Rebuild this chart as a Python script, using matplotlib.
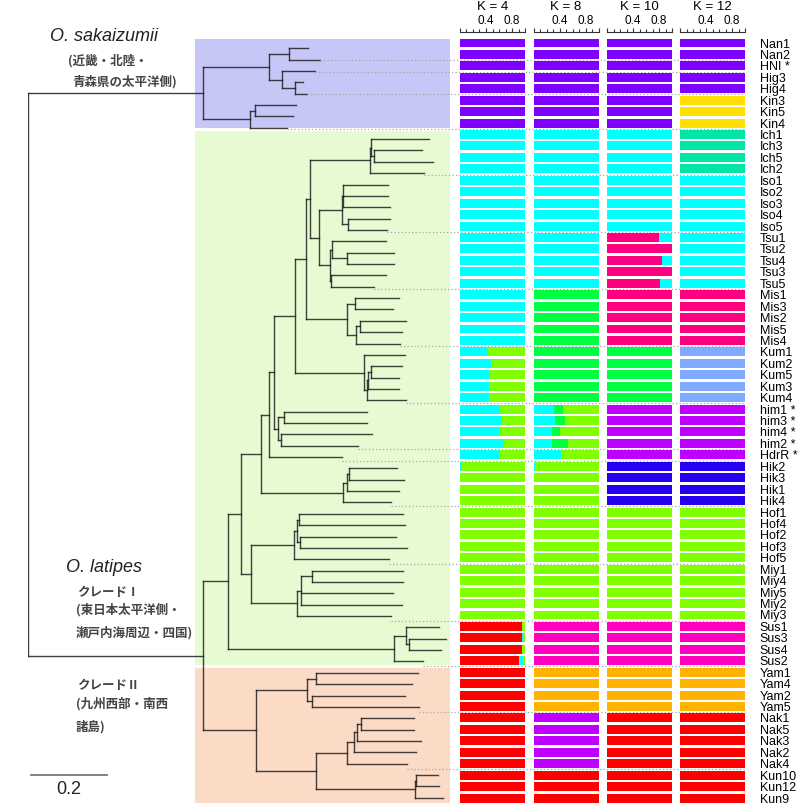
import matplotlib
matplotlib.use('Agg')

import matplotlib.pyplot as plt
import matplotlib.patches as patches
import matplotlib.transforms as mtransforms
from matplotlib.collections import LineCollection
import numpy as np

plt.rcParams['font.family'] = ['Liberation Sans', 'DejaVu Sans']
CJK = ['Noto Sans CJK JP', 'DejaVu Sans']

# ---------------- data ----------------
# neighbour-joining tree, branch lengths (scale bar 0.2)
sak = ("(((Nan1:0.050,Nan2:0.081):0.053,(HNI:0.088,(Hig3:0.021,Hig4:0.031):0.035):0.033):0.174,"
       "((Kin3:0.108,Kin5:0.101):0.013,Kin4:0.097):0.123):0.461")
ich = "((Ich1:0.153,(Ich3:0.126,Ich5:0.154):0.009):0.002,Ich2:0.142):0.157"
iso = "((Iso1:0.118,Iso2:0.118,Iso3:0.123):0.003,(Iso4:0.110,Iso5:0.103):0.015):0.062"
tsu = "((Tsu1:0.142,(Tsu2:0.122,Tsu4:0.122):0.039):0.007,(Tsu3:0.143,Tsu5:0.112):0.004):0.029"
mis = "((Mis1:0.115,Mis3:0.099):0.021,((Mis2:0.123,Mis5:0.111):0.009,Mis4:0.116):0.024):0.108"
kum = "(Kum1:0.108,(((Kum2:0.081,Kum5:0.074):0.006,Kum3:0.079):0.004,Kum4:0.103):0.007):0.183"
him = "((him1:0.217,him3:0.219):0.016,(him4:0.239,him2:0.202):0.009):0.011"
hik = "(((Hik2:0.125,Hik3:0.145):0.005,Hik1:0.136):0.011,Hik4:0.127):0.215"
hof = "(((Hof1:0.272,Hof4:0.278):0.005,(Hof2:0.253,Hof3:0.281):0.007):0.009,Hof5:0.251):0.114"
miy = "(((Miy1:0.239,Miy4:0.239):0.030,Miy5:0.243,Miy2:0.266):0.011,Miy3:0.247):0.121"
sus = "((Sus1:0.086,(Sus3:0.098,Sus4:0.085):0.007):0.033,Sus2:0.077):0.438"
yam = "((Yam1:0.269,Yam4:0.253):0.023,(Yam2:0.246,Yam5:0.281):0.012):0.136"
nak = "((((Nak1:0.141,Nak5:0.141):0.009,Nak3:0.167):0.009,Nak2:0.162):0.019,Nak4:0.158):0.081"
kun = "((Kun10:0.057,Kun12:0.059):0.003,Kun9:0.073):0.261"

clade1 = ("((((((((" + ich + ",(" + iso + "," + tsu + "):0.022):0.011," + mis + "):0.030,"
          + kum + "):0.055," + him + "):0.013,HdrR:0.192):0.020," + hik + "):0.054,("
          + hof + "," + miy + "):0.026):0.035," + sus + "):0.064")
clade2 = "(" + yam + ",(" + nak + "," + kun + "):0.159):0.138"
newick = "(" + sak + ",(" + clade1 + "," + clade2 + "):0.461);"

pop_names = ['Nan', 'HNI', 'Hig', 'Kin', 'Ich', 'Iso', 'Tsu', 'Mis', 'Kum',
             'him', 'HdrR', 'Hik', 'Hof', 'Miy', 'Sus', 'Yam', 'Nak', 'Kun']
pop_sizes = [2, 1, 2, 3, 4, 5, 5, 5, 5, 4, 1, 4, 5, 5, 4, 4, 5, 3]
starred = ['HNI', 'him1', 'him3', 'him4', 'him2', 'HdrR']

# shaded clades: first row, last row
clade_rows = [(0, 7), (8, 54), (55, 66)]
clade_colors = ['#C6C6F7', '#E6FBD2', '#FBDAC6']

colors = {'purple': '#7F00FF', 'cyan': '#00FFFF', 'lime': '#80FF00', 'red': '#FF0000',
          'green': '#00FF40', 'magenta': '#FF00BF', 'orange': '#FFB300', 'violet': '#BF00FF',
          'pink': '#FF0080', 'blue': '#2800F0', 'yellow': '#FFE000', 'teal': '#00E6A6',
          'lightblue': '#80AAFF'}

k_values = [4, 8, 10, 12]
k_order = {
    4: ['purple', 'red', 'cyan', 'lime'],
    8: ['purple', 'cyan', 'green', 'lime', 'magenta', 'orange', 'violet', 'red'],
    10: ['purple', 'pink', 'cyan', 'green', 'violet', 'blue', 'lime', 'magenta', 'orange', 'red'],
    12: ['purple', 'yellow', 'teal', 'cyan', 'pink', 'lightblue', 'violet', 'blue', 'lime',
         'magenta', 'orange', 'red'],
}
# main cluster of each population
k_main = {
    4: ['purple', 'purple', 'purple', 'purple', 'cyan', 'cyan', 'cyan', 'cyan', 'cyan',
        'cyan', 'cyan', 'lime', 'lime', 'lime', 'red', 'red', 'red', 'red'],
    8: ['purple', 'purple', 'purple', 'purple', 'cyan', 'cyan', 'cyan', 'green', 'green',
        'cyan', 'cyan', 'lime', 'lime', 'lime', 'magenta', 'orange', 'violet', 'red'],
    10: ['purple', 'purple', 'purple', 'purple', 'cyan', 'cyan', 'pink', 'pink', 'green',
         'violet', 'violet', 'blue', 'lime', 'lime', 'magenta', 'orange', 'red', 'red'],
    12: ['purple', 'purple', 'purple', 'yellow', 'teal', 'cyan', 'cyan', 'pink', 'lightblue',
         'violet', 'violet', 'blue', 'lime', 'lime', 'magenta', 'orange', 'red', 'red'],
}
# admixed individuals
k_mixed = {
    4: {'Kum1': {'cyan': 0.43, 'lime': 0.57}, 'Kum2': {'cyan': 0.47, 'lime': 0.53},
        'Kum5': {'cyan': 0.46, 'lime': 0.54}, 'Kum3': {'cyan': 0.45, 'lime': 0.55},
        'Kum4': {'cyan': 0.45, 'lime': 0.55}, 'him1': {'cyan': 0.61, 'lime': 0.39},
        'him3': {'cyan': 0.65, 'lime': 0.35}, 'him4': {'cyan': 0.61, 'lime': 0.39},
        'him2': {'cyan': 0.67, 'lime': 0.33}, 'HdrR': {'cyan': 0.62, 'lime': 0.38},
        'Hik2': {'cyan': 0.03, 'lime': 0.97},
        'Sus1': {'red': 0.95, 'lime': 0.05}, 'Sus3': {'red': 0.95, 'cyan': 0.03, 'lime': 0.02},
        'Sus4': {'red': 0.955, 'lime': 0.045}, 'Sus2': {'red': 0.91, 'cyan': 0.065, 'lime': 0.025}},
    8: {'him1': {'cyan': 0.31, 'green': 0.15, 'lime': 0.54},
        'him3': {'cyan': 0.33, 'green': 0.15, 'lime': 0.52},
        'him4': {'cyan': 0.28, 'green': 0.13, 'lime': 0.59},
        'him2': {'cyan': 0.29, 'green': 0.24, 'lime': 0.47},
        'HdrR': {'cyan': 0.42, 'green': 0.01, 'lime': 0.57},
        'Hik2': {'cyan': 0.03, 'lime': 0.97}},
    10: {'Tsu1': {'pink': 0.80, 'cyan': 0.20}, 'Tsu4': {'pink': 0.84, 'cyan': 0.16},
         'Tsu5': {'pink': 0.81, 'cyan': 0.19}},
    12: {},
}


# ---------------- tree helpers ----------------
def parse_newick(s):
    pos = 0

    def node():
        nonlocal pos
        kids = []
        if s[pos] == '(':
            pos += 1
            while True:
                kids.append(node())
                if s[pos] == ',':
                    pos += 1
                    continue
                pos += 1
                break
        start = pos
        while s[pos] not in ':,);':
            pos += 1
        name = s[start:pos]
        length = 0.0
        if s[pos] == ':':
            pos += 1
            start = pos
            while s[pos] not in ',);':
                pos += 1
            length = float(s[start:pos])
        return {'name': name, 'len': length, 'kids': kids}

    return node()


tips = []


def layout(n, x0):
    n['x'] = x0 + n['len']
    if not n['kids']:
        n['y'] = len(tips)
        tips.append(n)
    else:
        for k in n['kids']:
            layout(k, n['x'])
        n['y'] = (n['kids'][0]['y'] + n['kids'][-1]['y']) / 2


def segments(n, out):
    if n['kids']:
        out.append([(n['x'], n['kids'][0]['y']), (n['x'], n['kids'][-1]['y'])])
        for k in n['kids']:
            out.append([(n['x'], k['y']), (k['x'], k['y'])])
            segments(k, out)
    return out


root = parse_newick(newick)
layout(root, 0.0)
names = [t['name'] for t in tips]
tip_x = {t['name']: t['x'] for t in tips}
n_samples = len(names)
rows = np.arange(n_samples)
sample_pop = []
for p, s in zip(pop_names, pop_sizes):
    sample_pop += [p] * s

# ---------------- figure ----------------
W, H = 800, 809
ROW0, ROWH = 43.0, 11.44      # bar rows (pixels)
TIP0, TIPH = 48.3, 11.355     # tree tips (pixels)
X0, XS = 28.0, 380.0          # tree root position and pixels per unit

fig = plt.figure(figsize=(8, 8.09), dpi=100)


def add_ax(left, top, width, height):
    return fig.add_axes([left / W, 1 - (top + height) / H, width / W, height / H])


def row_lim(top, bottom):
    return ((bottom - ROW0) / ROWH, (top - ROW0) / ROWH)


# background frame (shaded clades)
ax_frame = add_ax(0, 0, W, H)
ax_frame.set_xlim(0, W)
ax_frame.set_ylim(*row_lim(0, H))
ax_frame.axis('off')
for (r0, r1), c in zip(clade_rows, clade_colors):
    ax_frame.add_patch(patches.Rectangle((195, r0 - 0.35), 255, r1 - r0 + 0.75,
                                         facecolor=c, edgecolor='none'))

# tree
ax_tree = add_ax(X0, 0, 450 - X0, H)
ax_tree.set_xlim(0, (450 - X0) / XS)
ax_tree.set_ylim((H - TIP0) / TIPH, -TIP0 / TIPH)
ax_tree.axis('off')
lc = LineCollection(segments(root, []), colors='#202020', linewidths=1.0, alpha=0.85,
                    capstyle='projecting')
ax_tree.add_collection(lc)

# dotted separators between populations
blend = mtransforms.blended_transform_factory(ax_tree.transData, ax_frame.transData)
x_end = (745 - X0) / XS
last = -1
for s in pop_sizes[:-1]:
    last += s
    ax_tree.plot([tip_x[names[last]], x_end], [last + 0.5, last + 0.5], transform=blend,
                 color='#A8A8A8', lw=0.9, linestyle=(0, (1, 1.8)), clip_on=False)

# scale bar
sb = mtransforms.blended_transform_factory(ax_tree.transData, ax_tree.transAxes)
sb_x0 = (31 - X0) / XS
ax_tree.plot([sb_x0, sb_x0 + 0.2], [1 - 775 / H] * 2, transform=sb, color='#777777',
             lw=1.3, clip_on=False)
ax_tree.text(sb_x0 + 0.1, 1 - 790 / H, '0.2', transform=sb, fontsize=13,
             ha='center', va='center', color='#222222')

# STRUCTURE bars
bar_left = [460, 533.5, 607, 680]
for k, left in zip(k_values, bar_left):
    ax = add_ax(left, 32, 65, H - 32)
    order = k_order[k]
    q = np.zeros((n_samples, len(order)))
    for i, (nm, p) in enumerate(zip(names, sample_pop)):
        mix = k_mixed[k].get(nm)
        if mix is None:
            q[i, order.index(k_main[k][pop_names.index(p)])] = 1.0
        else:
            for c, v in mix.items():
                q[i, order.index(c)] = v
    cum = np.zeros(n_samples)
    for j, c in enumerate(order):
        ax.barh(rows, q[:, j], left=cum, height=0.78, color=colors[c], linewidth=0)
        cum += q[:, j]
    ax.set_xlim(0, 1)
    ax.set_ylim(*row_lim(32, H))
    ax.patch.set_alpha(0)
    for sp in ['left', 'right', 'bottom']:
        ax.spines[sp].set_visible(False)
    ax.spines['top'].set_linewidth(0.8)
    ax.spines['top'].set_color('#333333')
    ax.xaxis.tick_top()
    ax.set_xticks([0, 0.4, 0.8, 1.0])
    ax.set_xticklabels(['', '0.4', '0.8', ''], fontsize=8.5)
    ax.set_xticks([0.1, 0.2, 0.3, 0.5, 0.6, 0.7, 0.9], minor=True)
    ax.tick_params(axis='x', which='major', length=3, width=0.8, pad=0.3, color='#333333')
    ax.tick_params(axis='x', which='minor', length=2, width=0.8, color='#333333')
    if k == 12:
        ax.yaxis.tick_right()
        ax.set_yticks(rows)
        ax.set_yticklabels([nm + ' *' if nm in starred else nm for nm in names], fontsize=9)
        ax.tick_params(axis='y', length=0, pad=10.5)
    else:
        ax.set_yticks([])
    fig.text((left + 32.5) / W, 1 - 7.5 / H, 'K = %d' % k, fontsize=9.5, ha='center', va='center')

# clade labels
fig.text(104 / W, 1 - 36.5 / H, 'O. sakaizumii', fontsize=13, style='italic',
         ha='center', va='center', color='#222222')
fig.text(104 / W, 1 - 567 / H, 'O. latipes', fontsize=13, style='italic',
         ha='center', va='center', color='#222222')
cjk_texts = [(68, 60.5, '(近畿・北陸・'), (72, 81.5, '青森県の太平洋側)'),
             (77, 592.5, 'クレードⅠ'), (76, 610, '(東日本太平洋側・'),
             (76, 632.5, '瀬戸内海周辺・四国)'), (77, 686, 'クレードⅡ'),
             (76, 704, '(九州西部・南西'), (76, 727, '諸島)')]
for x, y, t in cjk_texts:
    fig.text(x / W, 1 - y / H, t, fontsize=9, family=CJK, fontweight='bold',
             ha='left', va='center', color='#444444')

plt.savefig('out.png', dpi=100)
plt.close()
